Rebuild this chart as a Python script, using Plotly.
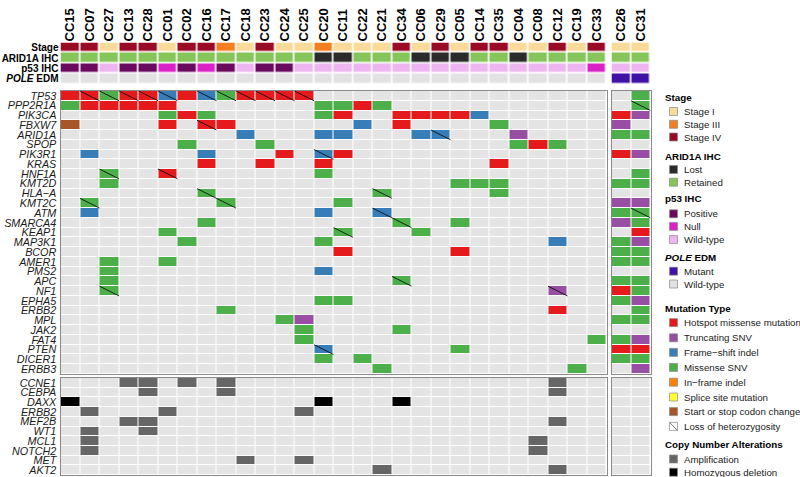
import plotly.graph_objects as go

# ---------------- data ----------------
samples_left = ["CC15", "CC07", "CC27", "CC13", "CC28", "CC01", "CC02", "CC16", "CC17", "CC18",
                "CC23", "CC24", "CC25", "CC20", "CC11", "CC22", "CC21", "CC34", "CC06", "CC29",
                "CC05", "CC14", "CC35", "CC04", "CC08", "CC12", "CC19", "CC33"]
samples_right = ["CC26", "CC31"]

stage = ["Stage IV", "Stage IV", "Stage I", "Stage IV", "Stage IV", "Stage I", "Stage IV", "Stage IV",
         "Stage III", "Stage I", "Stage IV", "Stage I", "Stage I", "Stage III", "Stage I", "Stage I",
         "Stage I", "Stage IV", "Stage I", "Stage IV", "Stage I", "Stage IV", "Stage IV", "Stage I",
         "Stage I", "Stage IV", "Stage I", "Stage IV", "Stage I", "Stage I"]
arid1a_ihc = ["Retained"] * 13 + ["Lost", "Lost", "Retained", "Retained", "Retained", "Lost", "Lost",
                                  "Lost", "Retained", "Retained", "Lost"] + ["Retained"] * 6
p53_ihc = ["Positive", "Positive", "Wild-type", "Positive", "Positive", "Null", "Positive", "Null",
           "Positive", "Wild-type", "Positive", "Positive"] + ["Wild-type"] * 15 + ["Null", "Wild-type", "Wild-type"]
pole_edm = ["Wild-type"] * 28 + ["Mutant", "Mutant"]

mut_genes = ["TP53", "PPP2R1A", "PIK3CA", "FBXW7", "ARID1A", "SPOP", "PIK3R1", "KRAS", "HNF1A",
             "KMT2D", "HLA\u2212A", "KMT2C", "ATM", "SMARCA4", "KEAP1", "MAP3K1", "BCOR", "AMER1",
             "PMS2", "APC", "NF1", "EPHA5", "ERBB2", "MPL", "JAK2", "FAT4", "PTEN", "DICER1", "ERBB3"]
cna_genes = ["CCNE1", "CEBPA", "DAXX", "ERBB2", "MEF2B", "WT1", "MCL1", "NOTCH2", "MET", "AKT2"]

hotspot = {
    "TP53": ["CC15", "CC07", "CC13", "CC28", "CC02", "CC18", "CC23", "CC24", "CC25"],
    "PPP2R1A": ["CC07", "CC27", "CC13", "CC28", "CC01", "CC22"],
    "PIK3CA": ["CC02", "CC11", "CC34", "CC06", "CC29", "CC05", "CC26"],
    "FBXW7": ["CC01", "CC16", "CC17", "CC34"],
    "SPOP": ["CC08"],
    "PIK3R1": ["CC24", "CC11", "CC26"],
    "KRAS": ["CC16", "CC23", "CC20", "CC35"],
    "HNF1A": ["CC01"],
    "KEAP1": ["CC31"],
    "BCOR": ["CC11", "CC05"],
    "NF1": ["CC26"],
    "ERBB2": ["CC12"],
    "PTEN": ["CC26", "CC31"],
}
truncating = {
    "PIK3CA": ["CC31"], "FBXW7": ["CC26"], "ARID1A": ["CC04"], "PIK3R1": ["CC31"],
    "KMT2C": ["CC26", "CC31"], "SMARCA4": ["CC26"], "MAP3K1": ["CC31"], "NF1": ["CC12"],
    "EPHA5": ["CC31"], "MPL": ["CC25"], "FAT4": ["CC31"], "ERBB3": ["CC31"],
}
frameshift = {
    "TP53": ["CC01", "CC16"], "FBXW7": ["CC22"], "ARID1A": ["CC18", "CC20", "CC11", "CC06", "CC29"],
    "PIK3CA": ["CC14"], "PIK3R1": ["CC07", "CC16", "CC20"], "ATM": ["CC07", "CC20", "CC21"],
    "MAP3K1": ["CC12"], "PMS2": ["CC20"], "PTEN": ["CC20"],
}
missense = {
    "TP53": ["CC27", "CC17", "CC31"],
    "PPP2R1A": ["CC15", "CC20", "CC11", "CC21", "CC31"],
    "PIK3CA": ["CC01", "CC16", "CC20"],
    "FBXW7": ["CC35"],
    "ARID1A": ["CC26", "CC31"],
    "SPOP": ["CC02", "CC23", "CC04", "CC12"],
    "HNF1A": ["CC27", "CC20", "CC31"],
    "KMT2D": ["CC27", "CC05", "CC14", "CC35", "CC26", "CC31"],
    "HLA\u2212A": ["CC16", "CC21", "CC35"],
    "KMT2C": ["CC07", "CC17", "CC11"],
    "ATM": ["CC26", "CC31"],
    "SMARCA4": ["CC16", "CC34", "CC05", "CC31"],
    "KEAP1": ["CC01", "CC11", "CC06"],
    "MAP3K1": ["CC02", "CC20", "CC26"],
    "BCOR": ["CC26", "CC31"],
    "AMER1": ["CC27", "CC01", "CC26", "CC31"],
    "PMS2": ["CC27"],
    "APC": ["CC27", "CC34", "CC26", "CC31"],
    "NF1": ["CC27", "CC31"],
    "EPHA5": ["CC20", "CC11", "CC26"],
    "ERBB2": ["CC17", "CC31"],
    "MPL": ["CC24", "CC26", "CC31"],
    "JAK2": ["CC25", "CC34"],
    "FAT4": ["CC25", "CC33", "CC26"],
    "PTEN": ["CC05"],
    "DICER1": ["CC20", "CC22", "CC26", "CC31"],
    "ERBB3": ["CC21", "CC19"],
}
inframe = {}
splice = {}
start_stop = {"FBXW7": ["CC15"]}
loh = {
    "TP53": ["CC07", "CC27", "CC13", "CC28", "CC01", "CC16", "CC17", "CC18", "CC23", "CC24", "CC25"],
    "PPP2R1A": ["CC31"], "FBXW7": ["CC16"], "ARID1A": ["CC29"], "PIK3R1": ["CC20"],
    "HNF1A": ["CC27", "CC01"], "HLA\u2212A": ["CC16", "CC21"], "KMT2C": ["CC07", "CC17"],
    "ATM": ["CC21", "CC31"], "SMARCA4": ["CC34"], "KEAP1": ["CC11"], "APC": ["CC34"],
    "NF1": ["CC27", "CC12"], "PTEN": ["CC20"],
}
amplification = {
    "CCNE1": ["CC13", "CC28", "CC02", "CC17", "CC12"], "CEBPA": ["CC28", "CC17", "CC12"],
    "ERBB2": ["CC07", "CC01", "CC25"], "MEF2B": ["CC13", "CC28", "CC12"], "WT1": ["CC07", "CC28"],
    "MCL1": ["CC07", "CC08"], "NOTCH2": ["CC07", "CC08"], "MET": ["CC18", "CC25"], "AKT2": ["CC21", "CC12"],
}
hom_deletion = {"DAXX": ["CC15", "CC20", "CC34"]}

# ---------------- styles ----------------
W, H = 800, 477
FONT = "Liberation Sans, Arial, sans-serif"
EMPTY = "#E4E4E4"
annot_levels = ["Stage I", "Stage III", "Stage IV", "Lost", "Retained", "Positive", "Null",
                "Wild-type", "Mutant", "Wild-type "]
annot_colors = ["#F9DA98", "#F47F20", "#990A24", "#2B2B2B", "#86C55A", "#6A0A5F", "#DA22C8",
                "#EDB6F0", "#3E13A6", "#E2E2E2"]
mut_colors = [EMPTY, "#E41A1C", "#984EA3", "#377EB8", "#4DAF4A", "#FF7F00", "#FFFF33", "#A65628"]
cna_colors = [EMPTY, "#666666", "#000000"]


def dscale(colors):
    n = len(colors)
    cs = []
    for i, c in enumerate(colors):
        cs.append([i / n, c])
        cs.append([(i + 1) / n, c])
    return cs


samples = samples_left + samples_right
nL = len(samples_left)

annot_z = [
    [annot_levels.index(v) for v in stage],
    [annot_levels.index(v) for v in arid1a_ihc],
    [annot_levels.index(v) for v in p53_ihc],
    [annot_levels.index(v if v == "Mutant" else "Wild-type ") for v in pole_edm],
]

z_mut = [[0] * len(samples) for _ in mut_genes]
for code, d in [(1, hotspot), (2, truncating), (3, frameshift), (4, missense), (5, inframe),
                (6, splice), (7, start_stop)]:
    for g, ss in d.items():
        for s in ss:
            z_mut[mut_genes.index(g)][samples.index(s)] = code

z_cna = [[0] * len(samples) for _ in cna_genes]
for code, d in [(1, amplification), (2, hom_deletion)]:
    for g, ss in d.items():
        for s in ss:
            z_cna[cna_genes.index(g)][samples.index(s)] = code


def left(z):
    return [r[:nL] for r in z]


def right(z):
    return [r[nL:] for r in z]


# ---------------- geometry (pixels) ----------------
xL = (60.5, 606.5)
xR = (611.5, 650.5)
yA = (42.5, 84.0)
yM = (91.0, 374.0)
yC = (378.0, 475.0)


def xd(p):
    return [p[0] / W, p[1] / W]


def yd(p):
    return [1 - p[1] / H, 1 - p[0] / H]


fig = go.Figure()

panels = [
    (1, xL, yA, left(annot_z), annot_colors, 4, nL, 1.6),
    (2, xR, yA, right(annot_z), annot_colors, 4, 2, 1.6),
    (3, xL, yM, left(z_mut), mut_colors, len(mut_genes), nL, 1.0),
    (4, xR, yM, right(z_mut), mut_colors, len(mut_genes), 2, 1.0),
    (5, xL, yC, left(z_cna), cna_colors, len(cna_genes), nL, 1.0),
    (6, xR, yC, right(z_cna), cna_colors, len(cna_genes), 2, 1.0),
]

layout_axes = {}
for idx, xdom, ydom, z, cols, nr, nc, gap in panels:
    sx = "" if idx == 1 else str(idx)
    fig.add_trace(go.Heatmap(
        z=z, x=list(range(nc)), y=list(range(nr)),
        colorscale=dscale(cols), zmin=-0.5, zmax=len(cols) - 0.5,
        showscale=False, xgap=gap, ygap=gap, hoverinfo="skip",
        xaxis="x" + sx, yaxis="y" + sx))
    border = idx >= 3
    xa = dict(domain=xd(xdom), range=[-0.5, nc - 0.5], anchor="y" + sx, showgrid=False,
              zeroline=False, showline=border, mirror=border, linecolor="#8A8A8A", linewidth=1,
              ticks="", showticklabels=False, fixedrange=True)
    ya = dict(domain=yd(ydom), range=[nr - 0.5, -0.5], anchor="x" + sx, showgrid=False,
              zeroline=False, showline=border, mirror=border, linecolor="#8A8A8A", linewidth=1,
              ticks="", showticklabels=False, fixedrange=True)
    if idx in (1, 2):
        names = samples_left if idx == 1 else samples_right
        xa.update(side="top", showticklabels=True, tickmode="array",
                  tickvals=list(range(nc)), ticktext=["<b>%s</b>" % s for s in names],
                  tickangle=-90, tickfont=dict(family=FONT, size=13, color="black"),
                  ticklabelstandoff=0)
    if idx == 1:
        ya.update(showticklabels=True, tickmode="array", tickvals=[0, 1, 2, 3],
                  ticktext=["<b>Stage</b>", "<b>ARID1A IHC</b>", "<b>p53 IHC</b>", "<b><i>POLE</i> EDM</b>"],
                  tickfont=dict(family=FONT, size=10, color="black"), ticklabelstandoff=1)
    if idx in (3, 5):
        genes = mut_genes if idx == 3 else cna_genes
        ya.update(showticklabels=True, tickmode="array", tickvals=list(range(nr)),
                  ticktext=["<i>%s</i>" % g for g in genes],
                  tickfont=dict(family=FONT, size=10.8, color="#1a1a1a"), ticklabelstandoff=1)
    layout_axes["xaxis" + sx] = xa
    layout_axes["yaxis" + sx] = ya

# LOH diagonals
for panel_samples, sx in [(samples_left, "3"), (samples_right, "4")]:
    lx, ly = [], []
    for g, ss in loh.items():
        for s in ss:
            if s in panel_samples:
                i = panel_samples.index(s)
                j = mut_genes.index(g)
                lx += [i - 0.5, i + 0.5, None]
                ly += [j - 0.5, j + 0.5, None]
    fig.add_trace(go.Scatter(x=lx, y=ly, mode="lines", line=dict(color="black", width=0.8),
                             hoverinfo="skip", showlegend=False, xaxis="x" + sx, yaxis="y" + sx))

# ---------------- legend (overlay axis in pixel units) ----------------
legend_groups = [
    ("<b>Stage</b>", 97.5, [("Stage I", annot_colors[0]), ("Stage III", annot_colors[1]),
                            ("Stage IV", annot_colors[2])], [111.5, 124.3, 137.0]),
    ("<b>ARID1A IHC</b>", 156.0, [("Lost", annot_colors[3]), ("Retained", annot_colors[4])],
     [169.5, 182.2]),
    ("<b>p53 IHC</b>", 198.3, [("Positive", annot_colors[5]), ("Null", annot_colors[6]),
                               ("Wild-type", annot_colors[7])], [213.8, 226.4, 239.6]),
    ("<b><i>POLE</i> EDM</b>", 257.6, [("Mutant", annot_colors[8]), ("Wild-type", annot_colors[9])],
     [271.2, 284.0]),
    ("<b>Mutation Type</b>", 308.3, [("Hotspot missense mutation", mut_colors[1]),
                                    ("Truncating SNV", mut_colors[2]),
                                    ("Frame\u2212shift indel", mut_colors[3]),
                                    ("Missense SNV", mut_colors[4]),
                                    ("In\u2212frame indel", mut_colors[5]),
                                    ("Splice site mutation", mut_colors[6]),
                                    ("Start or stop codon change", mut_colors[7]),
                                    ("Loss of heterozygosity", "white")],
     [322.6, 337.8, 352.4, 367.4, 382.2, 397.0, 411.6, 426.4]),
    ("<b>Copy Number Alterations</b>", 444.3, [("Amplification", cna_colors[1]),
                                              ("Homozygous deletion", cna_colors[2])], [459.0, 472.2]),
]
KEY_X, TXT_X, TITLE_X = 673.5, 682.5, 664.0
kx, ky, kc = [], [], []
annotations = []
loh_key = None
for title, ty, items, ys in legend_groups:
    annotations.append(dict(x=TITLE_X, y=ty, xref="x7", yref="y7", text=title, showarrow=False,
                            xanchor="left", yanchor="middle", borderpad=0,
                            font=dict(family=FONT, size=9.8, color="black")))
    for (lab, col), yy in zip(items, ys):
        kx.append(KEY_X)
        ky.append(yy)
        kc.append(col)
        if lab.startswith("Loss"):
            loh_key = yy
        annotations.append(dict(x=TXT_X, y=yy, xref="x7", yref="y7", text=lab, showarrow=False,
                                xanchor="left", yanchor="middle", borderpad=0,
                                font=dict(family=FONT, size=9.7, color="#222222")))
fig.add_trace(go.Scatter(x=kx, y=ky, mode="markers", hoverinfo="skip", showlegend=False,
                         marker=dict(symbol="square", size=8, color=kc,
                                     line=dict(color="#8A8A8A", width=0.7)),
                         xaxis="x7", yaxis="y7"))
fig.add_trace(go.Scatter(x=[KEY_X - 3.8, KEY_X + 3.8], y=[loh_key - 3.8, loh_key + 3.8], mode="lines",
                         line=dict(color="#333333", width=0.7), hoverinfo="skip", showlegend=False,
                         xaxis="x7", yaxis="y7"))
layout_axes["xaxis7"] = dict(domain=[0, 1], range=[0, W], visible=False, anchor="y7", fixedrange=True)
layout_axes["yaxis7"] = dict(domain=[0, 1], range=[H, 0], visible=False, anchor="x7", fixedrange=True)

fig.update_layout(
    width=W, height=H, template="none", paper_bgcolor="white", plot_bgcolor="rgba(0,0,0,0)",
    margin=dict(l=0, r=0, t=0, b=0), showlegend=False, annotations=annotations,
    font=dict(family=FONT), **layout_axes)

# remove the browser's default 8px body margin so the figure sits at the window origin
fig.write_html("out.html", config={"displayModeBar": False, "staticPlot": True},
               post_script="document.body.style.margin='0';")
